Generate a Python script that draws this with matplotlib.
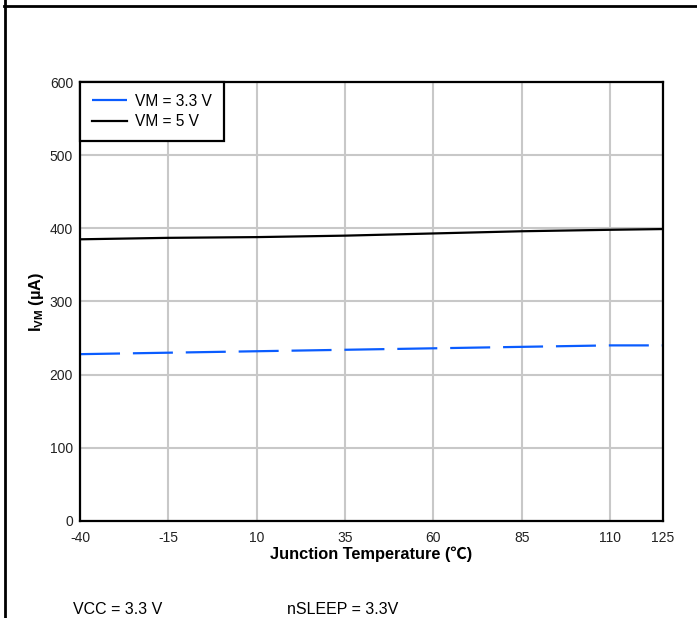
import matplotlib.pyplot as plt
from matplotlib.lines import Line2D

plt.rcParams['font.family'] = ['Liberation Sans', 'DejaVu Sans']
plt.rcParams['mathtext.fontset'] = 'custom'
plt.rcParams['mathtext.rm'] = 'Liberation Sans'
plt.rcParams['mathtext.bf'] = 'Liberation Sans:bold'
plt.rcParams['axes.unicode_minus'] = False

# данные
temps = [-40, -15, 10, 35, 60, 85, 110, 125]
i_vm_33 = [228, 230, 232, 234, 236, 238, 240, 240]
i_vm_5 = [385, 387, 388, 390, 393, 396, 398, 399]
x_ticks = [-40, -15, 10, 35, 60, 85, 110, 125]
y_ticks = [0, 100, 200, 300, 400, 500, 600]

fig = plt.figure(figsize=(6.97, 6.18), dpi=100)
ax = fig.add_axes([0.1148, 0.157, 0.8364, 0.7103])

ax.plot(temps, i_vm_33, color='#0a5cff', linewidth=1.6,
        linestyle=(0, (18, 5.8)), label='VM = 3.3 V', zorder=3)
ax.plot(temps, i_vm_5, color='black', linewidth=1.6, label='VM = 5 V', zorder=3)

ax.set_xlim(-40, 125)
ax.set_ylim(0, 600)
ax.set_xticks(x_ticks)
ax.set_yticks(y_ticks)
ax.tick_params(length=0, labelsize=10, labelcolor='#222222')
ax.tick_params(axis='x', pad=7)
ax.tick_params(axis='y', pad=5)
ax.grid(True, color='#c8c8c8', linewidth=1.5)
ax.set_axisbelow(True)
for s in ax.spines.values():
    s.set_linewidth(1.6)
    s.set_zorder(4)

ax.set_xlabel('Junction Temperature (℃)', fontsize=11.8, fontweight='bold',
              family=['Liberation Sans', 'Noto Sans CJK SC', 'DejaVu Sans'], labelpad=1)
ax.set_ylabel(r'$\mathbf{I_{VM}}$ (µA)', fontsize=11.8, fontweight='bold', labelpad=3)

leg = ax.legend(loc='upper left', prop={'size': 11.2}, handlelength=2.3, handletextpad=0.5,
                borderaxespad=0, fancybox=False, framealpha=1, edgecolor='black',
                borderpad=0.75, labelspacing=0.35)
leg.get_frame().set_linewidth(1.6)
leg.set_zorder(5)

# рамка вокруг рисунка
fig.add_artist(Line2D([0.006, 1.0], [0.9895, 0.9895], color='black', linewidth=2))
fig.add_artist(Line2D([0.0065, 0.0065], [0.0, 1.0], color='black', linewidth=2))

fig.text(73 / 697, 1 - 610 / 618, 'VCC = 3.3 V', fontsize=11.5, va='center')
fig.text(287 / 697, 1 - 610 / 618, 'nSLEEP = 3.3V', fontsize=11.5, va='center')

plt.savefig('out.png', dpi=100)
